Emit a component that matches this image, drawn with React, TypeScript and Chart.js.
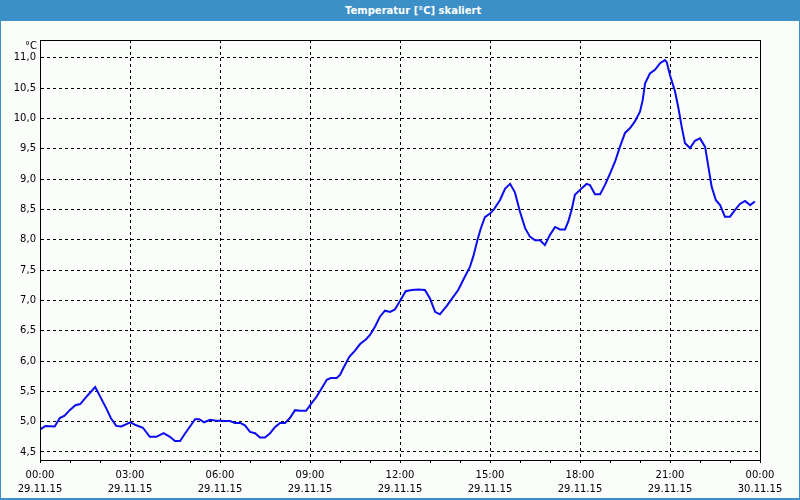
import { useEffect, useRef } from 'react';
import { Chart, registerables } from 'chart.js';

Chart.register(...registerables);

const titleText = 'Temperatur [°C] skaliert';
const unitLabel = '°C';

// hours since 29.11.15 00:00
const hours = [
  0.0, 0.18, 0.49, 0.66, 0.82, 0.99, 1.18, 1.34, 1.6, 1.84,
  2.04, 2.21, 2.36, 2.54, 2.71, 2.88, 3.01, 3.21, 3.43, 3.66,
  3.88, 4.12, 4.33, 4.5, 4.67, 4.83, 5.0, 5.17, 5.31, 5.47,
  5.67, 5.83, 6.17, 6.33, 6.5, 6.67, 6.83, 7.0, 7.17, 7.33,
  7.5, 7.67, 7.83, 8.0, 8.17, 8.33, 8.5, 8.67, 8.87, 9.06,
  9.22, 9.39, 9.56, 9.69, 9.89, 10.0, 10.11, 10.31, 10.5, 10.67,
  10.87, 11.0, 11.17, 11.33, 11.5, 11.67, 11.83, 12.0, 12.19, 12.39,
  12.61, 12.83, 13.0, 13.17, 13.33, 13.56, 13.78, 13.94, 14.11, 14.33,
  14.44, 14.58, 14.69, 14.83, 15.0, 15.13, 15.33, 15.5, 15.67, 15.83,
  16.0, 16.17, 16.33, 16.5, 16.67, 16.83, 17.0, 17.17, 17.33, 17.5,
  17.61, 17.72, 17.83, 18.06, 18.22, 18.33, 18.5, 18.67, 18.83, 19.0,
  19.17, 19.33, 19.5, 19.67, 19.83, 20.0, 20.09, 20.17, 20.33, 20.5,
  20.67, 20.83, 20.89, 21.0, 21.17, 21.28, 21.39, 21.5, 21.67, 21.83,
  22.0, 22.17, 22.28, 22.39, 22.53, 22.67, 22.83, 23.0, 23.17, 23.33,
  23.5, 23.67, 23.83,
];

const temps = [
  4.87, 4.93, 4.92, 5.06, 5.1, 5.19, 5.27, 5.29, 5.44, 5.57,
  5.38, 5.22, 5.06, 4.93, 4.92, 4.96, 4.99, 4.94, 4.9, 4.75,
  4.75, 4.81, 4.75, 4.68, 4.68, 4.8, 4.92, 5.04, 5.04, 4.99,
  5.03, 5.02, 5.01, 5.01, 4.98, 4.98, 4.94, 4.83, 4.81, 4.74,
  4.74, 4.81, 4.91, 4.98, 4.98, 5.06, 5.19, 5.18, 5.18, 5.31,
  5.41, 5.55, 5.69, 5.72, 5.72, 5.77, 5.88, 6.07, 6.17, 6.28,
  6.36, 6.43, 6.57, 6.73, 6.83, 6.81, 6.85, 6.99, 7.15, 7.17,
  7.18, 7.17, 7.03, 6.81, 6.77, 6.91, 7.06, 7.17, 7.34, 7.55,
  7.72, 7.99, 8.18, 8.37, 8.43, 8.5, 8.65, 8.84, 8.92, 8.78,
  8.46, 8.19, 8.05, 7.99, 7.99, 7.91, 8.08, 8.21, 8.17, 8.17,
  8.3, 8.49, 8.74, 8.85, 8.92, 8.9, 8.75, 8.75, 8.9, 9.09,
  9.29, 9.53, 9.76, 9.84, 9.95, 10.11, 10.3, 10.58, 10.74, 10.8,
  10.91, 10.96, 10.93, 10.71, 10.44, 10.17, 9.86, 9.59, 9.51, 9.63,
  9.67, 9.53, 9.2, 8.87, 8.65, 8.57, 8.38, 8.38, 8.49, 8.59,
  8.64, 8.57, 8.63,
];

const yTickValues = [4.5, 5.0, 5.5, 6.0, 6.5, 7.0, 7.5, 8.0, 8.5, 9.0, 9.5, 10.0, 10.5, 11.0];
const xTickHours = [0, 1, 2, 3, 4, 5, 6, 7, 8, 9, 10, 11, 12, 13, 14, 15, 16, 17, 18, 19, 20, 21, 22, 23, 24];
const xTimeLabels = ['00:00', '03:00', '06:00', '09:00', '12:00', '15:00', '18:00', '21:00', '00:00'];
const xDateLabels = ['29.11.15', '29.11.15', '29.11.15', '29.11.15', '29.11.15', '29.11.15', '29.11.15', '29.11.15', '30.11.15'];
const yMin = 4.368;
const yMax = 11.292;
const xMin = 0;
const xMax = 24;

const BLUE = '#3c8fc7';
const BG = '#fbfdfb';

const framePlugin = {
  id: 'frameAndUnit',
  afterDraw(chart: any) {
    const { ctx, chartArea: a } = chart;
    ctx.save();
    ctx.strokeStyle = '#000';
    ctx.lineWidth = 1;
    ctx.setLineDash([]);
    ctx.strokeRect(Math.floor(a.left) + 0.5, Math.floor(a.top) + 0.5, Math.round(a.right - a.left), Math.round(a.bottom - a.top));
    ctx.fillStyle = '#000';
    ctx.font = '10px "DejaVu Sans"';
    ctx.textAlign = 'right';
    ctx.textBaseline = 'middle';
    ctx.fillText(unitLabel, a.left - 3, a.top + 6);
    ctx.restore();
  },
};

function App() {
  const canvasRef = useRef<HTMLCanvasElement | null>(null);

  useEffect(() => {
    const canvas = canvasRef.current;
    if (!canvas) return;
    Chart.defaults.font.family = '"DejaVu Sans"';
    Chart.defaults.font.size = 10;
    Chart.defaults.color = '#000';

    const chart = new Chart(canvas, {
      type: 'line',
      data: {
        datasets: [
          {
            data: hours.map((h, i) => ({ x: h, y: temps[i] })),
            borderColor: '#0c0cf0',
            borderWidth: 2,
            pointRadius: 0,
            tension: 0,
            fill: false,
          },
        ],
      },
      options: {
        animation: false,
        responsive: false,
        maintainAspectRatio: false,
        layout: { padding: { left: 0, top: 40, right: 40, bottom: 0 } },
        plugins: {
          legend: { display: false },
          title: { display: false },
          tooltip: { enabled: false },
        },
        scales: {
          x: {
            type: 'linear',
            min: xMin,
            max: xMax,
            afterBuildTicks: (scale: any) => {
              scale.ticks = xTickHours.map((v) => ({ value: v }));
            },
            afterFit: (scale: any) => {
              scale.height = 40;
            },
            ticks: {
              autoSkip: false,
              maxRotation: 0,
              minRotation: 0,
              padding: 5,
              font: { size: 10, lineHeight: 1.4 },
              color: '#000',
              callback: (value: any) => {
                const v = Number(value);
                if (v % 3 !== 0) return '';
                const i = v / 3;
                return [xTimeLabels[i], xDateLabels[i]];
              },
            },
            grid: {
              drawOnChartArea: true,
              drawTicks: true,
              tickLength: 3,
              lineWidth: 1,
              color: (ctx: any) => (ctx.tick && ctx.tick.value % 3 === 0 ? '#000' : 'rgba(0,0,0,0)'),
              tickColor: '#000',
            },
            border: { display: true, color: '#000', width: 1, dash: [3, 3] },
          },
          y: {
            type: 'linear',
            min: yMin,
            max: yMax,
            afterBuildTicks: (scale: any) => {
              scale.ticks = yTickValues.map((v) => ({ value: v }));
            },
            afterFit: (scale: any) => {
              scale.width = 40;
            },
            ticks: {
              padding: 4,
              color: '#000',
              font: { size: 10 },
              callback: (value: any) => Number(value).toFixed(1).replace('.', ','),
            },
            grid: {
              drawOnChartArea: true,
              drawTicks: false,
              lineWidth: 1,
              color: '#000',
            },
            border: { display: true, color: '#000', width: 1, dash: [3, 3] },
          },
        },
      },
      plugins: [framePlugin],
    } as any);

    return () => {
      chart.destroy();
    };
  }, []);

  return (
    <div
      style={{
        position: 'fixed',
        left: 0,
        top: 0,
        width: 800,
        height: 500,
        background: BG,
        overflow: 'hidden',
      }}
    >
      <canvas
        ref={canvasRef}
        width={800}
        height={500}
        style={{ position: 'absolute', left: 0, top: 0, width: 800, height: 500 }}
      />
      <div
        style={{
          position: 'absolute',
          left: 0,
          top: 0,
          width: 800,
          height: 21,
          background: BLUE,
          color: '#fff',
          fontFamily: '"DejaVu Sans"',
          fontWeight: 'bold',
          fontSize: 10,
          lineHeight: '21px',
          boxSizing: 'border-box',
          paddingLeft: 345,
          whiteSpace: 'nowrap',
        }}
      >
        {titleText}
      </div>
      <div style={{ position: 'absolute', left: 0, top: 0, width: 1, height: 500, background: BLUE }} />
      <div style={{ position: 'absolute', right: 0, top: 0, width: 1, height: 500, background: BLUE }} />
      <div style={{ position: 'absolute', left: 0, bottom: 0, width: 800, height: 2, background: BLUE }} />
    </div>
  );
}

export default App;
